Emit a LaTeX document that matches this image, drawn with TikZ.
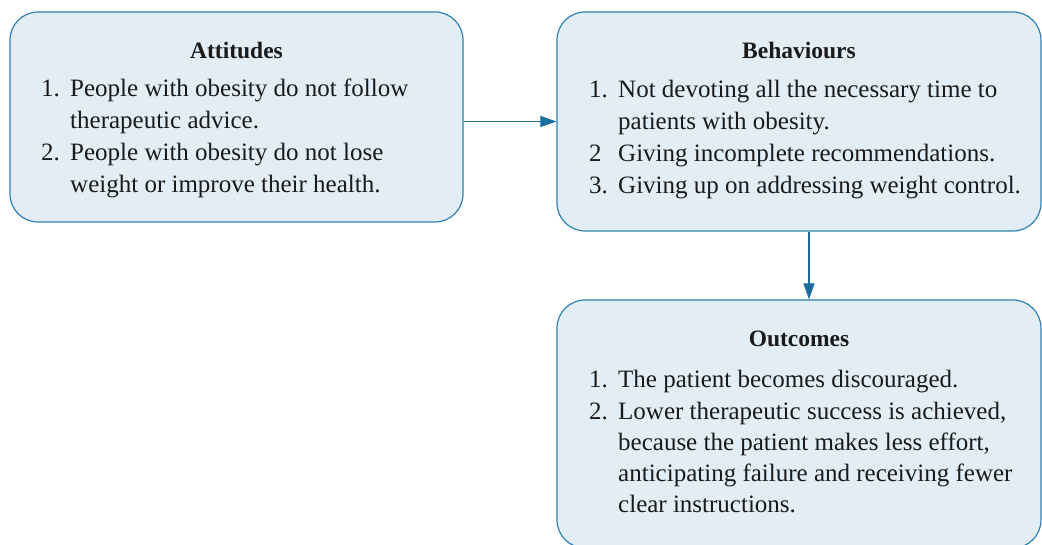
\documentclass[tikz,border=0pt]{standalone}
\usepackage{fontspec}
\setmainfont{Liberation Serif}
\usetikzlibrary{arrows.meta}
\definecolor{boxfill}{HTML}{E2EDF5}
\definecolor{boxline}{HTML}{2E80B4}
\definecolor{arrowc}{HTML}{1A6E9E}
\definecolor{ink}{HTML}{1A1A1A}
\begin{document}
\begin{tikzpicture}[x=1pt,y=-1pt,
  panel/.style={draw=boxline, fill=boxfill, line width=1.2pt, rounded corners=28pt, inner sep=0pt},
  head/.style={anchor=base, font=\fontsize{23.5}{28}\selectfont\bfseries, text=ink, inner sep=0pt},
  txt/.style={anchor=base west, font=\fontsize{25}{31}\selectfont, text=ink, inner sep=0pt},
  link/.style={draw=arrowc, line width=1.1pt, -{Triangle[length=16pt,width=11pt]}}]
\useasboundingbox (0,0) rectangle (1042,545);

% panels
\node[panel, minimum width=453pt, minimum height=210pt] (att) at (236.5,117) {};
\node[panel, minimum width=484pt, minimum height=219pt] (beh) at (799,121.5) {};
\node[panel, minimum width=484pt, minimum height=248pt] (out) at (799,424) {};

% Attitudes
\node[head] (attT) at (236.5,59) {Attitudes};
\node[txt] (a1n) at (41,97) {1.};
\node[txt] (a1a) at (70,97) {People with obesity do not follow};
\node[txt] (a1b) at (70,129) {therapeutic advice.};
\node[txt] (a2n) at (41,161) {2.};
\node[txt] (a2a) at (70,161) {People with obesity do not lose};
\node[txt] (a2b) at (70,193) {weight or improve their health.};

% Behaviours
\node[head] (behT) at (799,59) {Behaviours};
\node[txt] (b1n) at (589,98) {1.};
\node[txt] (b1a) at (618,98) {Not devoting all the necessary time to};
\node[txt] (b1b) at (618,130) {patients with obesity.};
\node[txt] (b2n) at (589,162) {2};
\node[txt] (b2a) at (618,162) {Giving incomplete recommendations.};
\node[txt] (b3n) at (589,194) {3.};
\node[txt] (b3a) at (618,194) {Giving up on addressing weight control.};

% Outcomes
\node[head] (outT) at (799,347) {Outcomes};
\node[txt] (o1n) at (589,388) {1.};
\node[txt] (o1a) at (618,388) {The patient becomes discouraged.};
\node[txt] (o2n) at (589,419) {2.};
\node[txt] (o2a) at (618,419) {Lower therapeutic success is achieved,};
\node[txt] (o2b) at (618,450) {because the patient makes less effort,};
\node[txt] (o2c) at (618,481) {anticipating failure and receiving fewer};
\node[txt] (o2d) at (618,512) {clear instructions.};

% connectors
\draw[link] (beh.west -| att.east) -- (beh.west);
\draw[link] ([xshift=10pt]beh.south) -- ([xshift=10pt]out.north);
\end{tikzpicture}
\end{document}
